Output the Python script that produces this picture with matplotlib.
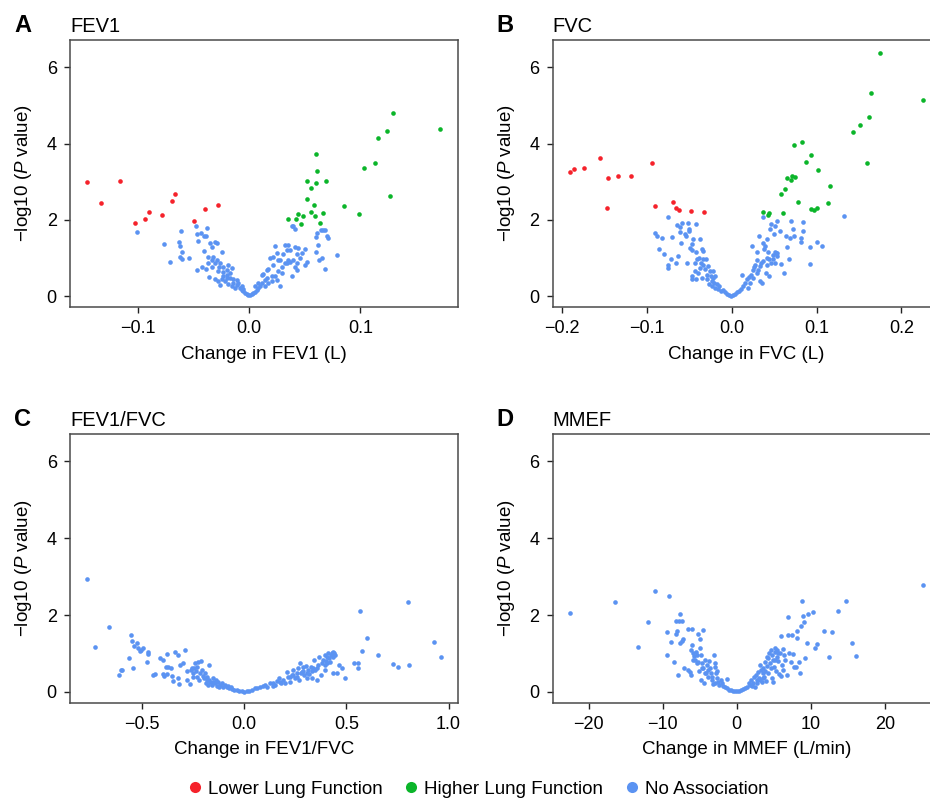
import matplotlib
matplotlib.use("Agg")
import matplotlib.pyplot as plt
from matplotlib.lines import Line2D

plt.rcParams['font.family'] = ['Liberation Sans', 'DejaVu Sans']
plt.rcParams['mathtext.fontset'] = 'custom'
plt.rcParams['mathtext.rm'] = 'Liberation Sans'
plt.rcParams['mathtext.it'] = 'Liberation Sans:italic'

RED = '#F5222B'
GREEN = '#0BB52A'
BLUE = '#5B93F2'

# ---------------- Panel A: FEV1 ----------------
fev1_low_x = [-0.1457, -0.1336, -0.1163, -0.1028, -0.0935, -0.0902, -0.0782, -0.0695, -0.0668, -0.0495, -0.0401, -0.0281]
fev1_low_y = [3.00, 2.44, 3.03, 1.91, 2.03, 2.21, 2.12, 2.49, 2.69, 1.96, 2.29, 2.39]
fev1_high_x = [0.0348, 0.0417, 0.0441, 0.0462, 0.0480, 0.0519, 0.0519, 0.0555, 0.0552, 0.0582, 0.0588, 0.0600,
               0.0606, 0.0603, 0.0633, 0.0663, 0.0690, 0.0852, 0.0986, 0.1034, 0.1133, 0.1155, 0.1235, 0.1265,
               0.1292, 0.1718]
fev1_high_y = [2.03, 2.02, 2.15, 1.89, 2.09, 3.03, 2.55, 2.84, 2.22, 2.39, 2.09, 3.73,
               3.27, 2.96, 1.93, 2.19, 3.03, 2.36, 2.15, 3.35, 3.49, 4.15, 4.32, 2.63,
               4.80, 4.37]
fev1_none_x = [-0.1007, -0.0767, -0.0713, -0.0615, -0.0632, -0.0624, -0.0603, -0.0624, -0.0609, -0.0546,
               -0.0483, -0.0471, -0.0462, -0.0432, -0.0408, -0.0393, -0.0384, -0.0408, -0.0354, -0.0339,
               -0.0309, -0.0294, -0.0249, -0.0468, -0.0423, -0.0393, -0.0369, -0.0360, -0.0333, -0.0309,
               -0.0285, -0.0264, -0.0234, -0.0204, -0.0174, -0.0153, -0.0144, -0.0114, -0.0084, -0.0069,
               -0.0054, -0.0039, -0.0024, -0.0009, 0.0006, 0.0021, 0.0036, 0.0051, 0.0066, 0.0081,
               0.0096, 0.0111, 0.0126, 0.0141, 0.0156, 0.0171, 0.0186, 0.0201, 0.0216, 0.0231,
               0.0246, 0.0261, 0.0276, 0.0291, 0.0306, 0.0321, 0.0336, 0.0351, 0.0366, 0.0381,
               0.0396, 0.0411, 0.0411, 0.0426, 0.0432, 0.0441, 0.0456, 0.0471, 0.0501, 0.0504,
               0.0516, 0.0597, 0.0600, 0.0606, 0.0621, 0.0630, 0.0645, 0.0651, 0.0665, 0.0680,
               0.0683, 0.0695, 0.0710, 0.0785, 0.0381,
               -0.0294, -0.0264, -0.0234, -0.0204, -0.0174, -0.0219, -0.0189, -0.0159, -0.0129, -0.0324,
               -0.0279, -0.0249, -0.0189, -0.0114, -0.0099, 0.0141, 0.0171, 0.0201, 0.0231, 0.0261,
               0.0291, 0.0321, 0.0351, 0.0246, -0.0369, -0.0339, 0.0366, 0.0396, 0.0411, 0.0426,
               0.0336, 0.0276, 0.0216, 0.0156, 0.0111, 0.0081, 0.0051, -0.0069, -0.0054, -0.0144,
               -0.0204, -0.0240, -0.0270, -0.0309]
fev1_none_y = [1.68, 1.37, 0.89, 1.72, 1.41, 1.32, 1.17, 1.04, 0.97, 0.99,
               1.83, 1.63, 1.46, 1.67, 1.57, 1.59, 1.80, 1.19, 1.39, 1.29,
               1.43, 1.39, 1.15, 0.70, 0.77, 0.71, 0.87, 0.50, 0.77, 0.45,
               0.39, 0.30, 0.52, 0.57, 0.48, 0.74, 0.35, 0.30, 0.22, 0.17,
               0.13, 0.09, 0.06, 0.03, 0.04, 0.07, 0.09, 0.11, 0.17, 0.22,
               0.26, 0.35, 0.58, 0.43, 0.48, 0.72, 1.00, 0.52, 0.83, 1.32,
               1.13, 0.96, 0.28, 0.61, 1.11, 1.35, 1.22, 1.35, 0.91, 0.52,
               1.84, 1.77, 1.30, 1.11, 0.87, 1.26, 1.00, 1.13, 0.83, 1.23,
               0.91, 1.55, 1.17, 1.65, 1.35, 0.96, 1.74, 0.99, 1.74, 1.74,
               0.71, 1.57, 1.53, 1.09, 1.83,
               0.96, 0.87, 0.78, 0.70, 0.61, 0.39, 0.33, 0.26, 0.22, 1.04,
               0.65, 0.45, 0.83, 0.43, 0.35, 0.26, 0.35, 0.39, 0.52, 0.65,
               0.78, 0.87, 0.96, 0.42, 1.04, 0.96, 1.22, 0.96, 0.78, 0.70,
               0.87, 0.96, 1.04, 0.70, 0.57, 0.35, 0.26, 0.26, 0.19, 0.45,
               0.48, 0.63, 0.78, 0.87]

# ---------------- Panel B: FVC ----------------
fvc_low_x = [-0.1908, -0.1856, -0.1738, -0.1550, -0.1459, -0.1337, -0.1188, -0.1471, -0.0936, -0.0905,
             -0.0696, -0.0657, -0.0625, -0.0476, -0.0326]
fvc_low_y = [3.26, 3.32, 3.37, 3.61, 3.10, 3.14, 3.14, 2.30, 3.50, 2.37,
             2.48, 2.31, 2.26, 2.23, 2.20]
fvc_high_x = [0.0370, 0.0425, 0.0444, 0.0586, 0.0606, 0.0629, 0.0653, 0.0700, 0.0712, 0.0751,
              0.0732, 0.0787, 0.0826, 0.0881, 0.0936, 0.0936, 0.0968, 0.1003, 0.1023, 0.1141,
              0.1160, 0.1436, 0.1518, 0.1601, 0.1624, 0.1648, 0.1750, 0.2262]
fvc_high_y = [2.22, 2.12, 2.19, 2.67, 2.17, 2.80, 3.09, 3.05, 3.16, 3.13,
              3.96, 2.47, 4.03, 3.51, 3.71, 2.29, 2.27, 2.32, 3.30, 2.43,
              2.89, 4.29, 4.49, 3.50, 4.69, 5.32, 6.38, 5.13]
fvc_none_x = [-0.0747, -0.0909, -0.0885, -0.0826, -0.0857, -0.0794, -0.0755, -0.0747, -0.0716, -0.0704,
              -0.0661, -0.0637, -0.0645, -0.0614, -0.0606, -0.0594, -0.0582, -0.0547, -0.0535, -0.0527,
              -0.0511, -0.0507, -0.0499, -0.0492, -0.0468, -0.0464, -0.0452, -0.0437, -0.0472, -0.0468,
              -0.0421, -0.0421, -0.0413, -0.0433, -0.0425, -0.0389, -0.0374, -0.0366, -0.0350, -0.0338,
              -0.0354, -0.0334, -0.0315, -0.0303, -0.0295, -0.0287, -0.0275, -0.0267, -0.0256, -0.0244,
              -0.0232, -0.0216, -0.0205, -0.0193, -0.0177, -0.0161, -0.0146, -0.0130, -0.0106, -0.0083,
              -0.0059, -0.0035, -0.0012, 0.0012, 0.0035, 0.0059, 0.0083, 0.0106, 0.0122, 0.0138,
              0.0157, 0.0177, 0.0197, 0.0208, 0.0224, 0.0236, 0.0248, 0.0264, 0.0279, 0.0295,
              0.0303, 0.0311, 0.0326, 0.0334, 0.0350, 0.0358, 0.0366, 0.0374, 0.0381, 0.0397,
              0.0401, 0.0413, 0.0421, 0.0429, 0.0444, 0.0452, 0.0460, 0.0468, 0.0484, 0.0500,
              0.0507, 0.0515, 0.0523, 0.0531, 0.0539, 0.0570, 0.0586, 0.0621, 0.0637, 0.0649,
              0.0673, 0.0688, 0.0700, 0.0720, 0.0739, 0.0814, 0.0822, 0.0838, 0.0842, 0.0924,
              0.0928, 0.1003, 0.1070, 0.1329,
              -0.0334, -0.0374, -0.0393, -0.0236, -0.0197, -0.0224, 0.0216, 0.0256, 0.0295, 0.0334,
              0.0374, 0.0413, 0.0444, 0.0492, 0.0515, 0.0539]
fvc_none_y = [2.07, 1.66, 1.59, 1.53, 1.23, 1.10, 0.74, 0.81, 0.97, 1.54,
              0.88, 1.05, 1.86, 1.69, 1.81, 1.40, 1.92, 1.64, 1.57, 0.88,
              1.92, 1.70, 1.77, 1.27, 1.21, 1.37, 1.49, 0.88, 0.53, 0.46,
              1.90, 1.16, 0.97, 0.66, 0.46, 1.00, 1.49, 0.88, 1.24, 1.18,
              0.49, 0.83, 0.72, 0.98, 0.57, 0.44, 0.79, 0.31, 0.66, 0.53,
              0.40, 0.49, 0.36, 0.23, 0.31, 0.18, 0.27, 0.14, 0.16, 0.10,
              0.07, 0.03, 0.02, 0.03, 0.05, 0.10, 0.14, 0.20, 0.56, 0.27,
              0.36, 0.44, 0.23, 0.51, 0.57, 1.31, 0.69, 0.77, 0.83, 1.16,
              0.95, 0.70, 1.57, 0.40, 0.88, 0.36, 2.08, 1.40, 1.23, 1.31,
              0.62, 1.49, 1.01, 1.16, 0.53, 1.77, 0.88, 1.88, 0.97, 1.64,
              0.88, 1.83, 1.13, 1.97, 1.05, 1.72, 0.84, 0.60, 1.57, 1.30,
              0.98, 1.53, 1.97, 1.77, 1.59, 1.53, 1.42, 1.71, 1.94, 1.30,
              0.84, 1.42, 1.31, 2.10,
              0.97, 0.75, 0.62, 0.27, 0.53, 0.66, 0.36, 0.48, 0.62, 0.79,
              0.92, 0.83, 0.97, 1.07, 1.16, 1.13]

# ---------------- Panel C: FEV1/FVC ----------------
ratio_x = [-0.765, -0.730, -0.660, -0.609, -0.601, -0.598, -0.562, -0.552, -0.547, -0.541,
           -0.537, -0.524, -0.518, -0.508, -0.495, -0.502, -0.476, -0.467, -0.469, -0.443,
           -0.433, -0.410, -0.394, -0.397, -0.391, -0.378, -0.381, -0.376, -0.370, -0.355,
           -0.350, -0.345, -0.339, -0.321, -0.321, -0.316, -0.311, -0.296, -0.287, -0.280,
           -0.277, -0.265, -0.261, -0.251, -0.243, -0.239, -0.231, -0.223, -0.220, -0.215,
           -0.208, -0.202, -0.195, -0.186, -0.179, -0.171, -0.169, -0.158, -0.150, -0.142,
           -0.134, -0.125, -0.117, -0.109, -0.101, -0.093, -0.085, -0.072, -0.060, -0.049,
           -0.036, -0.023, -0.011, 0.000, 0.013, 0.026, 0.039, 0.052, 0.065, 0.078,
           0.091, 0.104, 0.114, 0.127, 0.140, 0.151, 0.163, 0.173, 0.181, 0.192,
           0.208, 0.213, 0.225, 0.233, 0.241, 0.249, 0.257, 0.265, 0.270, 0.274,
           0.282, 0.287, 0.295, 0.301, 0.306, 0.314, 0.319, 0.326, 0.334, 0.344,
           0.347, 0.355, 0.358, 0.366, 0.376, 0.379, 0.388, 0.394, 0.397, 0.401,
           0.407, 0.412, 0.417, 0.423, 0.428, 0.433, 0.436, 0.441, 0.446, 0.436,
           0.453, 0.463, 0.477, 0.492, 0.537, 0.555, 0.559, 0.567, 0.578, 0.603,
           0.653, 0.728, 0.752, 0.803, 0.808, 0.928, 0.961,
           -0.256, -0.235, -0.228, -0.248, -0.207, -0.191, -0.182, -0.166, -0.174, -0.153,
           -0.137, -0.121, -0.077, -0.065, 0.225, 0.241, 0.261, 0.277, 0.290, 0.309,
           0.331, 0.339, 0.363, 0.396, 0.404, 0.420, 0.176, 0.200, 0.143]
ratio_y = [2.93, 1.16, 1.70, 0.43, 0.57, 0.58, 0.87, 1.48, 1.33, 0.62,
           1.20, 1.28, 1.13, 1.07, 1.13, 1.09, 0.78, 1.04, 0.98, 0.43,
           0.46, 0.89, 0.83, 0.46, 0.42, 0.46, 0.65, 0.98, 0.65, 0.63,
           0.41, 0.28, 1.05, 0.35, 0.95, 0.20, 0.71, 0.74, 1.10, 0.32,
           0.55, 0.20, 0.58, 0.48, 0.61, 0.74, 0.39, 0.78, 0.30, 0.48,
           0.81, 0.41, 0.35, 0.22, 0.39, 0.69, 0.30, 0.17, 0.26, 0.22,
           0.15, 0.26, 0.17, 0.22, 0.13, 0.19, 0.13, 0.10, 0.08, 0.06,
           0.04, 0.03, 0.02, 0.01, 0.02, 0.03, 0.06, 0.09, 0.10, 0.13,
           0.16, 0.19, 0.13, 0.22, 0.23, 0.17, 0.29, 0.35, 0.22, 0.32,
           0.52, 0.39, 0.26, 0.43, 0.58, 0.35, 0.48, 0.61, 0.32, 0.74,
           0.52, 0.65, 0.43, 0.67, 0.37, 0.57, 0.46, 0.65, 0.35, 0.83,
           0.58, 0.30, 0.63, 0.90, 0.43, 0.74, 0.84, 0.57, 0.96, 0.81,
           0.90, 1.00, 0.87, 0.96, 1.02, 0.91, 1.04, 1.00, 0.97, 0.48,
           0.48, 0.70, 0.63, 0.37, 0.76, 0.63, 0.76, 2.10, 1.07, 1.41,
           0.96, 0.72, 0.65, 2.35, 0.71, 1.30, 0.90,
           0.63, 0.55, 0.65, 0.39, 0.57, 0.48, 0.30, 0.26, 0.17, 0.35,
           0.30, 0.13, 0.15, 0.13, 0.39, 0.43, 0.39, 0.48, 0.55, 0.50,
           0.55, 0.63, 0.70, 0.70, 0.74, 0.78, 0.26, 0.22, 0.15]

# ---------------- Panel D: MMEF ----------------
mmef_x = [-22.52, -16.44, -13.38, -12.03, -11.04, -9.37, -9.37, -9.14, -8.83, -8.51,
          -8.24, -8.20, -8.06, -7.97, -7.84, -7.61, -7.61, -7.43, -7.34, -7.21,
          -7.12, -6.62, -6.53, -6.31, -6.13, -6.04, -6.17, -5.99, -5.95, -5.86,
          -5.72, -5.54, -5.41, -5.23, -5.14, -5.00, -4.95, -4.82, -4.82, -4.68,
          -4.50, -4.50, -4.41, -4.28, -4.19, -4.05, -3.92, -3.78, -3.60, -3.47,
          -3.29, -3.15, -3.06, -2.97, -2.88, -2.79, -2.70, -2.61, -2.48, -2.34,
          -2.16, -1.98, -1.80, -1.58, -1.35, -1.26, -0.99, -0.72, -0.45, -0.18,
          0.09, 0.36, 0.63, 0.90, 1.17, 1.44, 1.62, 1.80, 1.98, 2.16,
          2.34, 2.48, 2.61, 2.79, 2.93, 3.06, 3.15, 3.24, 3.38, 3.51,
          3.60, 3.74, 3.87, 3.96, 4.05, 4.14, 4.28, 4.41, 4.50, 4.59,
          4.68, 4.82, 4.86, 4.95, 5.05, 5.14, 5.23, 5.32, 5.41, 5.50,
          5.63, 5.77, 5.86, 5.95, 6.04, 6.08, 6.22, 6.31, 6.44, 6.58,
          6.76, 6.89, 6.98, 7.12, 7.30, 7.48, 7.66, 7.79, 7.97, 8.11,
          8.20, 8.38, 8.51, 8.65, 8.83, 9.01, 9.10, 9.28, 9.46, 9.64,
          10.32, 10.59, 10.81, 11.80, 12.48, 12.84, 13.69, 14.73, 15.63, 16.13,
          25.23,
          -5.63, -5.18, -4.73, -4.28, -3.83, -3.38, -2.93, -5.41,
          3.83, 4.28, 4.73, 5.18, 5.63, 3.60, 3.15, 2.70, 2.03]
mmef_y = [2.06, 2.33, 1.18, 1.81, 2.63, 1.55, 0.96, 2.50, 1.31, 0.79,
          1.50, 1.85, 1.59, 0.43, 1.84, 2.04, 1.28, 1.84, 1.33, 1.37,
          0.61, 1.64, 0.58, 0.52, 0.43, 1.63, 1.09, 1.21, 1.00, 0.84,
          0.93, 1.04, 0.97, 1.50, 0.55, 1.37, 1.13, 0.96, 0.30, 0.74,
          1.61, 0.63, 0.23, 0.83, 0.48, 0.70, 0.57, 0.81, 0.63, 0.48,
          0.39, 0.20, 0.95, 0.76, 0.65, 0.48, 0.35, 0.55, 0.26, 0.17,
          0.30, 0.22, 0.16, 0.13, 0.34, 0.09, 0.06, 0.04, 0.03, 0.02,
          0.02, 0.03, 0.05, 0.08, 0.10, 0.13, 0.22, 0.17, 0.32, 0.23,
          0.39, 0.13, 0.43, 0.30, 0.52, 0.37, 0.70, 0.57, 0.26, 0.48,
          0.63, 0.39, 0.55, 0.29, 0.91, 0.67, 0.48, 1.00, 0.76, 0.61,
          1.09, 0.37, 0.26, 0.84, 0.65, 1.04, 1.13, 0.55, 0.91, 1.09,
          0.81, 0.46, 1.00, 0.41, 1.45, 0.70, 1.12, 0.57, 0.96, 0.84,
          0.43, 1.96, 1.47, 1.02, 0.79, 1.47, 0.98, 0.65, 0.65, 1.40,
          1.59, 0.79, 0.48, 1.72, 2.37, 1.98, 1.83, 0.89, 1.27, 2.04,
          2.08, 1.14, 1.25, 1.59, 0.90, 1.56, 2.10, 2.37, 1.27, 0.93,
          2.77,
          0.83, 0.78, 0.61, 0.48, 0.39, 0.30, 0.22, 0.74,
          0.78, 0.87, 0.96, 0.83, 1.00, 0.35, 0.30, 0.22, 0.15]

W, H = 930, 798
fig = plt.figure(figsize=(W / 100, H / 100), dpi=100)


def px_axes(left, top, right, bottom):
    return fig.add_axes([left / W, 1 - bottom / H, (right - left) / W, (bottom - top) / H])


SPINE = '#4a4a4a'
YL = (-0.28, 6.71)
S = 11


def style(ax, xlim, xticks, xticklabels, xlabel, title, letter, show_right=True):
    ax.set_xlim(*xlim)
    ax.set_ylim(*YL)
    ax.set_yticks([0, 2, 4, 6])
    ax.set_xticks(xticks)
    ax.set_xticklabels(xticklabels)
    for sp in ax.spines.values():
        sp.set_color(SPINE)
        sp.set_linewidth(1.1)
    if not show_right:
        ax.spines['right'].set_visible(False)
    ax.tick_params(direction='out', length=4.5, width=1.0, color='#222222',
                   labelsize=13, pad=5, top=False, right=False)
    ax.set_xlabel(xlabel, fontsize=13.5, labelpad=6)
    ax.set_ylabel(r'$-$log10 ($\it{P}$ value)', fontsize=13.5, labelpad=9)
    ax.text(0.0, 1.03, title, transform=ax.transAxes, fontsize=14.5, ha='left', va='baseline')
    bb = ax.get_position()
    fig.text(bb.x0 - 56 / W, bb.y1 + 7.5 / H, letter, fontsize=17, fontweight='bold',
             ha='left', va='baseline')


# Panel A
axA = px_axes(70, 40, 458, 307)
axA.scatter(fev1_none_x, fev1_none_y, s=S, color=BLUE, linewidths=0, zorder=2)
axA.scatter(fev1_low_x, fev1_low_y, s=S, color=RED, linewidths=0, zorder=3)
axA.scatter(fev1_high_x, fev1_high_y, s=S, color=GREEN, linewidths=0, zorder=3)
style(axA, (-0.1612, 0.1877), [-0.1, 0.0, 0.1], ['\u22120.1', '0.0', '0.1'],
      'Change in FEV1 (L)', 'FEV1', 'A')

# Panel B
axB = px_axes(552.7, 40, 940, 307)
axB.scatter(fvc_none_x, fvc_none_y, s=S, color=BLUE, linewidths=0, zorder=2)
axB.scatter(fvc_low_x, fvc_low_y, s=S, color=RED, linewidths=0, zorder=3)
axB.scatter(fvc_high_x, fvc_high_y, s=S, color=GREEN, linewidths=0, zorder=3)
style(axB, (-0.2113, 0.2457), [-0.2, -0.1, 0.0, 0.1, 0.2],
      ['\u22120.2', '\u22120.1', '0.0', '0.1', '0.2'],
      'Change in FVC (L)', 'FVC', 'B', show_right=False)

# Panel C
axC = px_axes(70, 434, 458, 702.7)
axC.scatter(ratio_x, ratio_y, s=S, color=BLUE, linewidths=0, zorder=2)
style(axC, (-0.850, 1.046), [-0.5, 0.0, 0.5, 1.0], ['\u22120.5', '0.0', '0.5', '1.0'],
      'Change in FEV1/FVC', 'FEV1/FVC', 'C')

# Panel D
axD = px_axes(552.7, 434, 940, 702.7)
axD.scatter(mmef_x, mmef_y, s=S, color=BLUE, linewidths=0, zorder=2)
style(axD, (-24.86, 27.47), [-20, -10, 0, 10, 20], ['\u221220', '\u221210', '0', '10', '20'],
      'Change in MMEF (L/min)', 'MMEF', 'D', show_right=False)

handles = [Line2D([], [], linestyle='none', marker='o', markersize=8, color=c, markeredgewidth=0)
           for c in (RED, GREEN, BLUE)]
fig.legend(handles, ['Lower Lung Function', 'Higher Lung Function', 'No Association'],
           loc='center', bbox_to_anchor=(478 / W, 1 - 789 / H), ncol=3, frameon=False,
           fontsize=13.5, handletextpad=0.3, columnspacing=1.1, handlelength=0.8,
           borderaxespad=0)

fig.savefig('out.png', dpi=100)
